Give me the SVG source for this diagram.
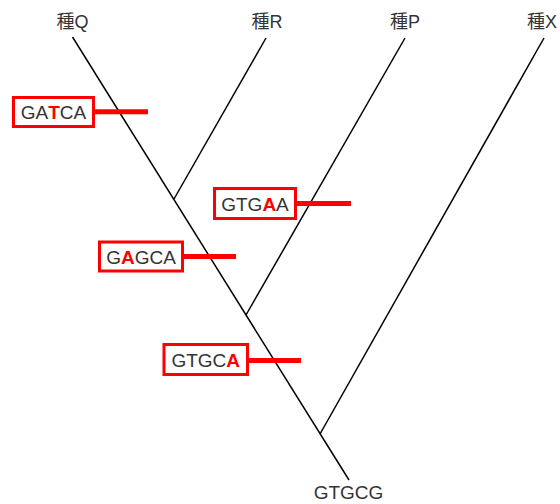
<svg xmlns="http://www.w3.org/2000/svg" width="560" height="504" viewBox="0 0 560 504">
<style>
.lbl{font-family:"Liberation Sans","Noto Sans CJK JP",sans-serif;font-size:18px;fill:#333;text-anchor:middle}
.seq{font-family:"Liberation Sans",sans-serif;font-size:19px;fill:#333;text-anchor:middle}
.mut{fill:#f00;font-weight:bold}
.box{fill:#fff;stroke:#f00;stroke-width:3}
.tick{stroke:#f00;stroke-width:5}
.br{stroke:#000;stroke-width:1.5;fill:none}
</style>
<rect width="560" height="504" fill="#fff"/>
<g id="connectors">
<line class="br" x1="72.5" y1="37" x2="349" y2="480"/>
<line class="br" x1="266" y1="38" x2="174" y2="199"/>
<line class="br" x1="405" y1="38" x2="246" y2="315"/>
<line class="br" x1="544" y1="38" x2="320" y2="434"/>
<line class="tick" x1="95" y1="111.7" x2="148" y2="111.7"/>
<line class="tick" x1="297" y1="203.5" x2="351" y2="203.5"/>
<line class="tick" x1="184" y1="256.5" x2="236" y2="256.5"/>
<line class="tick" x1="249" y1="360.5" x2="301" y2="360.5"/>
</g>
<g id="sQ"><text class="lbl" x="72.5" y="28">種Q</text></g>
<g id="sR"><text class="lbl" x="267" y="28">種R</text></g>
<g id="sP"><text class="lbl" x="405" y="28">種P</text></g>
<g id="sX"><text class="lbl" x="542" y="28">種X</text></g>
<g id="root"><text class="seq" x="348.5" y="499">GTGCG</text></g>
<g id="GATCA"><rect class="box" x="13.5" y="97.5" width="80" height="29"/><text class="seq" x="53.5" y="119">GA<tspan class="mut">T</tspan>CA</text></g>
<g id="GTGAA"><rect class="box" x="214.5" y="188.5" width="81" height="30"/><text class="seq" x="255" y="210.5">GTG<tspan class="mut">A</tspan>A</text></g>
<g id="GAGCA"><rect class="box" x="99.5" y="242" width="83" height="29"/><text class="seq" x="141" y="263.5">G<tspan class="mut">A</tspan>GCA</text></g>
<g id="GTGCA"><rect class="box" x="164" y="344.5" width="83.5" height="30"/><text class="seq" x="205.7" y="366.5">GTGC<tspan class="mut">A</tspan></text></g>
</svg>
